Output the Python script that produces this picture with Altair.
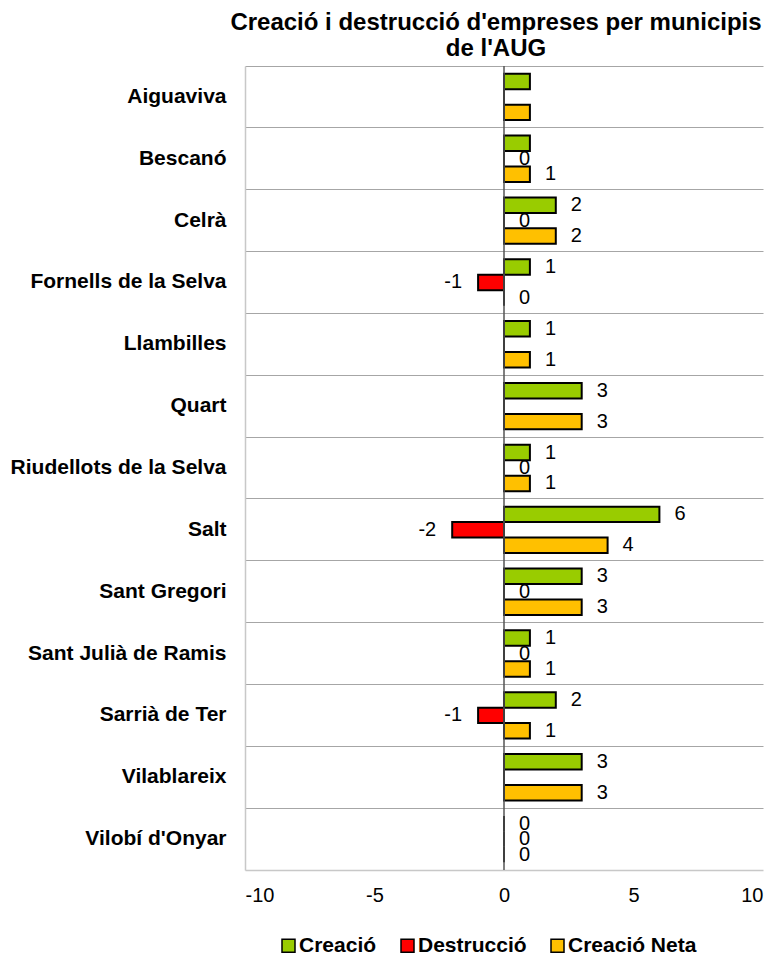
import altair as alt
import pandas as pd

municipis = ["Aiguaviva", "Bescanó", "Celrà", "Fornells de la Selva", "Llambilles",
             "Quart\u00a0", "Riudellots de la Selva", "Salt", "Sant Gregori",
             "Sant Julià de Ramis", "Sarrià de Ter", "Vilablareix", "Vilobí d'Onyar"]
series = ["Creació", "Destrucció", "Creació Neta"]
creacio = [1, 1, 2, 1, 1, 3, 1, 6, 3, 1, 2, 3, 0]
destruccio = [0, 0, 0, -1, 0, 0, 0, -2, 0, 0, -1, 0, 0]
neta = [1, 1, 2, 0, 1, 3, 1, 4, 3, 1, 1, 3, 0]
lab_creacio = ["", "", "2", "1", "1", "3", "1", "6", "3", "1", "2", "3", "0"]
lab_destruccio = ["", "0", "0", "-1", "", "", "0", "-2", "0", "0", "-1", "", "0"]
lab_neta = ["", "1", "2", "0", "1", "3", "1", "4", "3", "1", "1", "3", "0"]
x_ticks = [-10, -5, 0, 5, 10]
colors = ["#99CC00", "#FF0000", "#FFC000"]

rows = []
for vals, labs, s in [(creacio, lab_creacio, series[0]),
                      (destruccio, lab_destruccio, series[1]),
                      (neta, lab_neta, series[2])]:
    for m, v, l in zip(municipis, vals, labs):
        rows.append({"municipi": m, "serie": s, "valor": v, "label": l})
df = pd.DataFrame(rows)

FONT = "Liberation Sans"

y_enc = alt.Y("municipi:N", sort=municipis, title=None,
              scale=alt.Scale(paddingInner=0, paddingOuter=0),
              axis=alt.Axis(labelFont=FONT, labelFontSize=21, labelFontWeight="bold",
                            labelColor="black", labelPadding=19, labelLimit=400,
                            ticks=False, grid=True, bandPosition=0, gridColor="#a6a6a6",
                            gridWidth=1, domainColor="#c8c8c8", domainWidth=1.5))
yoff = alt.YOffset("serie:N", sort=series,
                   scale=alt.Scale(paddingInner=0, paddingOuter=0.5))
x_scale = alt.Scale(domain=[-10, 10], nice=False)

bars = alt.Chart(df).mark_bar(stroke="black", strokeWidth=2).encode(
    x=alt.X("valor:Q", scale=x_scale, title=None,
            axis=alt.Axis(values=x_ticks, grid=False, ticks=False,
                          labelExpr="'' + datum.value",
                          labelFont=FONT, labelFontSize=20, labelColor="black",
                          labelPadding=15, domainColor="#c8c8c8", domainWidth=1.5)),
    y=y_enc,
    yOffset=yoff,
    color=alt.Color("serie:N", sort=series,
                    scale=alt.Scale(domain=series, range=colors),
                    legend=alt.Legend(title=None, orient="none", direction="horizontal",
                                      legendX=33, legendY=869,
                                      symbolType="square", symbolSize=169,
                                      symbolStrokeColor="black", symbolStrokeWidth=1.5,
                                      labelFont=FONT, labelFontSize=21, labelLimit=300,
                                      labelFontWeight="bold", labelColor="black",
                                      columnPadding=20, labelOffset=0)),
)

zero = alt.Chart(pd.DataFrame({"x": [0]})).mark_rule(color="#555555", strokeWidth=1.5).encode(
    x=alt.X("x:Q", scale=x_scale))

text_pos = alt.Chart(df).transform_filter("datum.valor >= 0").mark_text(
    align="left", baseline="middle", dx=15, font=FONT, fontSize=20, color="black").encode(
    x=alt.X("valor:Q", scale=x_scale), y=alt.Y("municipi:N", sort=municipis),
    yOffset=yoff, text="label:N")

text_neg = alt.Chart(df).transform_filter("datum.valor < 0").mark_text(
    align="right", baseline="middle", dx=-16, font=FONT, fontSize=20, color="black").encode(
    x=alt.X("valor:Q", scale=x_scale), y=alt.Y("municipi:N", sort=municipis),
    yOffset=yoff, text="label:N")

chart = alt.layer(bars, zero, text_pos, text_neg).properties(
    width=518, height=804,
    title=alt.TitleParams(["Creació i destrucció d'empreses per municipis", "de l'AUG"],
                          font=FONT, fontSize=24, fontWeight="bold", color="black",
                          anchor="middle", dx=-8, lineHeight=26, offset=4),
    padding={"left": 2, "top": 3, "right": 5, "bottom": 5},
).configure_view(stroke=None)

chart.save("out.html", embed_options={"renderer": "svg", "actions": False})
